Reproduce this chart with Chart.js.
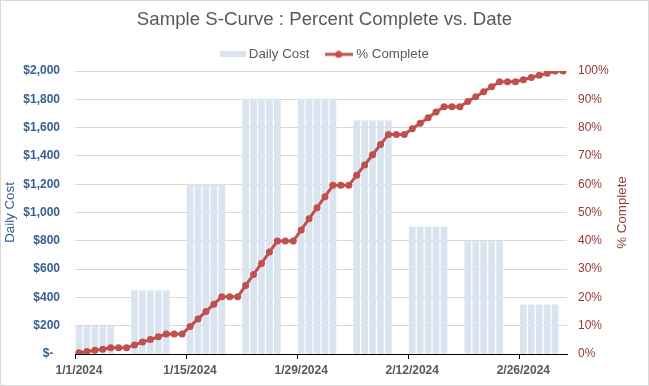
<!DOCTYPE html>
<html>
<head>
<meta charset="utf-8">
<script src="https://cdn.jsdelivr.net/npm/chart.js@4.4.1/dist/chart.umd.min.js"></script>
<style>
    html, body { margin: 0; padding: 0; background: #ffffff; }
    #wrap { width: 649px; height: 386px; box-sizing: border-box; border: 1px solid #d9d9d9; position: relative; }
</style>
</head>
<body>
<div id="wrap"><canvas id="sCurve"></canvas></div>
<script>
// Chart.js combo chart: daily cost bars + cumulative % complete line

// one category per day, 1/1/2024 .. 3/2/2024
const dates = [
    '1/1/2024', '1/2/2024', '1/3/2024', '1/4/2024', '1/5/2024', '1/6/2024', '1/7/2024',
    '1/8/2024', '1/9/2024', '1/10/2024', '1/11/2024', '1/12/2024', '1/13/2024', '1/14/2024',
    '1/15/2024', '1/16/2024', '1/17/2024', '1/18/2024', '1/19/2024', '1/20/2024', '1/21/2024',
    '1/22/2024', '1/23/2024', '1/24/2024', '1/25/2024', '1/26/2024', '1/27/2024', '1/28/2024',
    '1/29/2024', '1/30/2024', '1/31/2024', '2/1/2024', '2/2/2024', '2/3/2024', '2/4/2024',
    '2/5/2024', '2/6/2024', '2/7/2024', '2/8/2024', '2/9/2024', '2/10/2024', '2/11/2024',
    '2/12/2024', '2/13/2024', '2/14/2024', '2/15/2024', '2/16/2024', '2/17/2024', '2/18/2024',
    '2/19/2024', '2/20/2024', '2/21/2024', '2/22/2024', '2/23/2024', '2/24/2024', '2/25/2024',
    '2/26/2024', '2/27/2024', '2/28/2024', '2/29/2024', '3/1/2024', '3/2/2024'
];

// daily cost ($), weekends have no work
const dailyCost = [
    200, 200, 200, 200, 200, null, null,
    450, 450, 450, 450, 450, null, null,
    1200, 1200, 1200, 1200, 1200, null, null,
    1800, 1800, 1800, 1800, 1800, null, null,
    1800, 1800, 1800, 1800, 1800, null, null,
    1650, 1650, 1650, 1650, 1650, null, null,
    900, 900, 900, 900, 900, null, null,
    800, 800, 800, 800, 800, null, null,
    350, 350, 350, 350, 350, null
];

// cumulative percent complete
const pctComplete = [
    0.4, 0.9, 1.3, 1.7, 2.2, 2.2, 2.2,
    3.2, 4.2, 5.1, 6.1, 7.1, 7.1, 7.1,
    9.7, 12.4, 15.0, 17.6, 20.2, 20.2, 20.2,
    24.2, 28.1, 32.0, 36.0, 39.9, 39.9, 39.9,
    43.8, 47.8, 51.7, 55.6, 59.6, 59.6, 59.6,
    63.2, 66.8, 70.4, 74.0, 77.6, 77.6, 77.6,
    79.6, 81.5, 83.5, 85.5, 87.4, 87.4, 87.4,
    89.2, 90.9, 92.7, 94.4, 96.2, 96.2, 96.2,
    96.9, 97.7, 98.5, 99.2, 100, 100
];

// dates that get a label on the x axis
const tickDates = ['1/1/2024', '1/15/2024', '1/29/2024', '2/12/2024', '2/26/2024'];

const barColor = '#dae4f0';
const lineColor = '#c0504d';
const costText = '#376092';
const pctText = '#953735';
const grayText = '#595959';

Chart.defaults.font.family = "'Liberation Sans', Arial, sans-serif";
Chart.defaults.devicePixelRatio = 1;

// little pictures for the legend
function makeBoxMarker() {
    const c = document.createElement('canvas');
    c.width = 30; c.height = 6;
    const g = c.getContext('2d');
    g.fillStyle = barColor;
    g.fillRect(4, 0, 26, 6);
    return c;
}
function makeLineMarker() {
    const c = document.createElement('canvas');
    c.width = 28; c.height = 8;
    const g = c.getContext('2d');
    g.strokeStyle = lineColor;
    g.lineWidth = 3;
    g.beginPath(); g.moveTo(0, 4); g.lineTo(28, 4); g.stroke();
    g.fillStyle = lineColor;
    g.beginPath(); g.arc(14, 4, 3.5, 0, Math.PI * 2); g.fill();
    return c;
}
const boxMarker = makeBoxMarker();
const lineMarker = makeLineMarker();

// right axis title reads bottom-to-top, so draw it here
const rightTitle = {
    id: 'rightTitle',
    afterDraw(chart) {
        const ctx = chart.ctx;
        const area = chart.chartArea;
        ctx.save();
        ctx.translate(621, (area.top + area.bottom) / 2);
        ctx.rotate(-Math.PI / 2);
        ctx.font = "13.33px 'Liberation Sans', Arial, sans-serif";
        ctx.fillStyle = pctText;
        ctx.textAlign = 'center';
        ctx.textBaseline = 'middle';
        ctx.fillText('% Complete', 0, 0);
        ctx.restore();
    }
};

const sCurve = new Chart(document.getElementById('sCurve'), {
    type: 'bar',
    data: {
        labels: dates,
        datasets: [
            {
                type: 'bar',
                label: 'Daily Cost',
                data: dailyCost,
                backgroundColor: barColor,
                borderWidth: 0,
                barPercentage: 0.84,
                categoryPercentage: 1,
                yAxisID: 'y',
                order: 2
            },
            {
                type: 'line',
                label: '% Complete',
                data: pctComplete,
                borderColor: lineColor,
                backgroundColor: lineColor,
                borderWidth: 3,
                pointRadius: 3.5,
                pointBorderWidth: 0,
                pointBackgroundColor: lineColor,
                tension: 0,
                yAxisID: 'y1',
                order: 1
            }
        ]
    },
    options: {
        responsive: true,
        maintainAspectRatio: false,
        animation: false,
        layout: { padding: { left: 0, right: 0, top: 0, bottom: 0 } },
        scales: {
            x: {
                offset: true,
                grid: {
                    offset: true,
                    drawOnChartArea: false,
                    drawTicks: true,
                    tickLength: 5,
                    color: ctx => (ctx.index !== undefined && ctx.index % 14 === 0) ? '#000000' : 'rgba(0,0,0,0)'
                },
                border: { display: true, color: '#000000', width: 1 },
                ticks: {
                    autoSkip: false,
                    maxRotation: 0,
                    padding: 4,
                    color: grayText,
                    font: { size: 12, weight: 'bold' },
                    callback: function (value) {
                        const lbl = this.getLabelForValue(value);
                        return tickDates.includes(lbl) ? lbl : '';
                    }
                },
                afterFit: scale => { scale.height = 31; }
            },
            y: {
                position: 'left',
                min: 0,
                max: 2000,
                grid: { color: '#d9d9d9', drawTicks: false },
                border: { display: false },
                ticks: {
                    stepSize: 200,
                    padding: 15,
                    color: costText,
                    font: { size: 12, weight: 'bold' },
                    callback: v => v === 0 ? '$-  ' : '$' + v.toLocaleString('en-US')
                },
                title: {
                    display: true,
                    text: 'Daily Cost',
                    color: costText,
                    font: { size: 13.33 },
                    padding: { top: 1, bottom: 0 }
                },
                afterFit: scale => { scale.width = 74; }
            },
            y1: {
                position: 'right',
                min: 0,
                max: 100,
                grid: { drawOnChartArea: false, drawTicks: false },
                border: { display: false },
                ticks: {
                    stepSize: 10,
                    padding: 11,
                    color: pctText,
                    font: { size: 12 },
                    callback: v => v + '%'
                },
                afterFit: scale => { scale.width = 81; }
            }
        },
        plugins: {
            title: {
                display: true,
                text: 'Sample S-Curve : Percent Complete vs. Date',
                color: grayText,
                font: { size: 18.67, weight: 'normal', lineHeight: 1 },
                padding: { top: 10, bottom: 0 }
            },
            legend: {
                position: 'top',
                labels: {
                    color: grayText,
                    font: { size: 13.33 },
                    usePointStyle: true,
                    pointStyleWidth: 22,
                    padding: 18,
                    generateLabels: function (chart) {
                        const items = Chart.defaults.plugins.legend.labels.generateLabels(chart);
                        items.sort((a, b) => a.datasetIndex - b.datasetIndex);
                        items.forEach(item => {
                            item.pointStyle = item.datasetIndex === 0 ? boxMarker : lineMarker;
                        });
                        return items;
                    }
                }
            },
            tooltip: { enabled: false }
        }
    },
    plugins: [rightTitle]
});
</script>
</body>
</html>
